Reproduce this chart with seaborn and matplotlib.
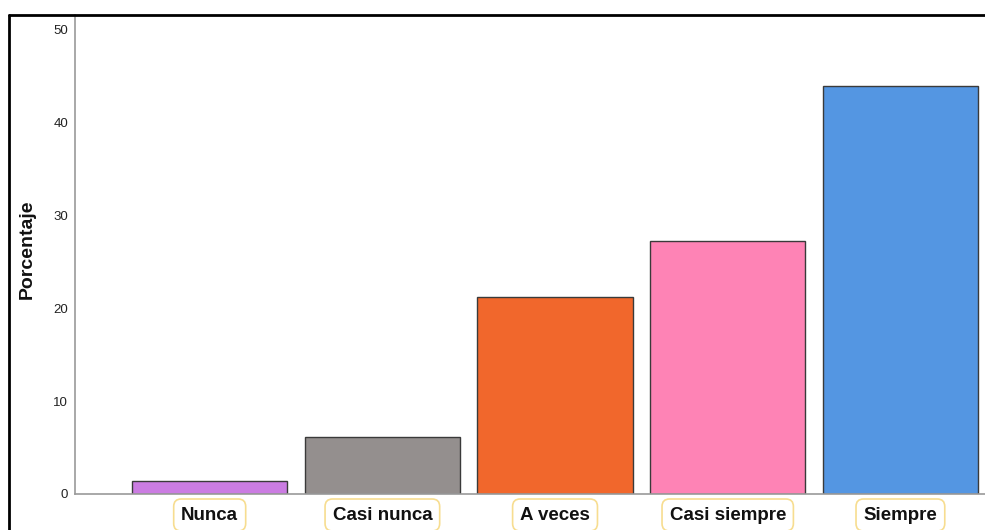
import matplotlib
matplotlib.use("Agg")
import matplotlib.pyplot as plt
import seaborn as sns
import pandas as pd
from matplotlib.lines import Line2D

categories = ["Nunca", "Casi nunca", "A veces", "Casi siempre", "Siempre"]
values = [1.4, 6.1, 21.2, 27.3, 43.9]
colors = ["#cb7ce2", "#948f8e", "#f1672c", "#fe83b5", "#5496e2"]
yticks = [0, 10, 20, 30, 40, 50]

sns.set_theme(style="white")
plt.rcParams["font.family"] = ["Liberation Sans", "DejaVu Sans"]

df = pd.DataFrame({"cat": categories, "val": values})

fig = plt.figure(figsize=(9.85, 5.3), dpi=100)
ax = fig.add_axes([75 / 985, 36 / 530, 910 / 985, 479 / 530])

sns.barplot(data=df, x="cat", y="val", hue="cat", palette=colors, order=categories,
            hue_order=categories, width=0.9, edgecolor="#3a3a3a", linewidth=1.0,
            legend=False, ax=ax, saturation=1)

ax.set_xlim(-0.78, 4.49)
ax.set_ylim(0, 51.6)
ax.set_yticks(yticks)
ax.set_yticklabels([str(t) for t in yticks], fontsize=9.5, color="#222222")
ax.tick_params(axis="both", length=0)
ax.tick_params(axis="y", pad=5)
ax.tick_params(axis="x", pad=9)
ax.set_xticks(range(len(categories)))
ax.set_xticklabels(categories, fontsize=13.5, fontweight="bold", color="#111111")
for lab in ax.get_xticklabels():
    lab.set_bbox(dict(boxstyle="round,pad=0.4,rounding_size=0.4", fc="white",
                      ec="#f7dd90", lw=1.2))

ax.set_xlabel("")
ax.set_ylabel("Porcentaje", fontsize=14, fontweight="bold", color="#111111")
ax.yaxis.set_label_coords(-0.043, 0.51)

for s in ["top", "right"]:
    ax.spines[s].set_visible(False)
for s in ["left", "bottom"]:
    ax.spines[s].set_color("#9a9a9a")
    ax.spines[s].set_linewidth(1.2)

# outer frame (cropped screenshot border)
x0 = 8.5 / 985
y0 = 1 - 14.5 / 530
fig.add_artist(Line2D([x0, 1.0], [y0, y0], color="black", lw=2.0, transform=fig.transFigure))
fig.add_artist(Line2D([x0, x0], [0, y0], color="black", lw=2.0, transform=fig.transFigure))

fig.savefig("out.png", dpi=100)
